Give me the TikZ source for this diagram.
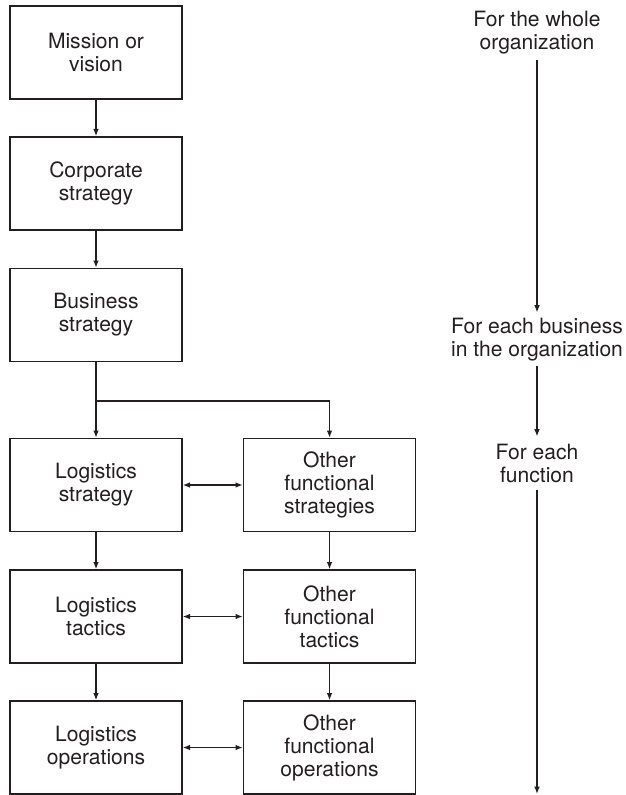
\documentclass[tikz,border=0pt]{standalone}
\usepackage{fontspec}
\setmainfont{TeX Gyre Heros}
\usetikzlibrary{arrows.meta}
\definecolor{ink}{RGB}{35,31,32}
\begin{document}
\begin{tikzpicture}[x=0.75pt,y=-0.75pt,
  font=\fontsize{15.8}{17.25}\selectfont,
  every node/.style={text=ink},
  box/.style={draw=ink,line width=1pt,minimum width=129pt,minimum height=69.75pt,
    inner sep=0pt,align=center},
  level/.style={inner sep=0pt,minimum height=40pt,align=center},
  arr/.style={draw=ink,line width=1pt,-{Latex[length=5.5pt,width=4.2pt]}},
  dbl/.style={draw=ink,line width=1pt,{Latex[length=5.5pt,width=4.2pt]}-{Latex[length=5.5pt,width=4.2pt]}},
  link/.style={draw=ink,line width=1pt}]
\useasboundingbox (0,0) rectangle (625,795);

% left column of the hierarchy
\node[box] (mis) at (96,52.5) {Mission or\\vision};
\node[box] (cor) at (96,183.5) {Corporate\\strategy};
\node[box] (bus) at (96,315) {Business\\strategy};
\node[box] (ls) at (96,485) {Logistics\\strategy};
\node[box] (lt) at (96,616.5) {Logistics\\tactics};
\node[box] (lo) at (96,747.5) {Logistics\\operations};

% other functions
\node[box] (os) at (329.5,485) {Other\\functional\\strategies};
\node[box] (ot) at (329.5,616.5) {Other\\functional\\tactics};
\node[box] (oo) at (329.5,747.5) {Other\\functional\\operations};

% scope labels
\node[level] (lw) at (537,33) {For the whole\\organization};
\node[level] (lb) at (537,339.5) {For each business\\in the organization};
\node[level] (lf) at (537,463.5) {For each\\function};
\coordinate (lend) at (537,794);

\coordinate (split) at (96,401);

% vertical flow
\draw[arr] (mis) -- (cor);
\draw[arr] (cor) -- (bus);
\draw[link] (bus) -- (split);
\draw[arr] (split) -- (ls);
\draw[arr] (split) -| (os);
\draw[arr] (ls) -- (lt);
\draw[arr] (lt) -- (lo);
\draw[arr] (os) -- (ot);
\draw[arr] (ot) -- (oo);

% links between functions
\draw[dbl] (ls) -- (os);
\draw[dbl] (lt) -- (ot);
\draw[dbl] (lo) -- (oo);

% scope arrows
\draw[arr] (lw) -- (lb);
\draw[arr] (lb) -- (lf);
\draw[arr] (lf) -- (lend);
\end{tikzpicture}
\end{document}
